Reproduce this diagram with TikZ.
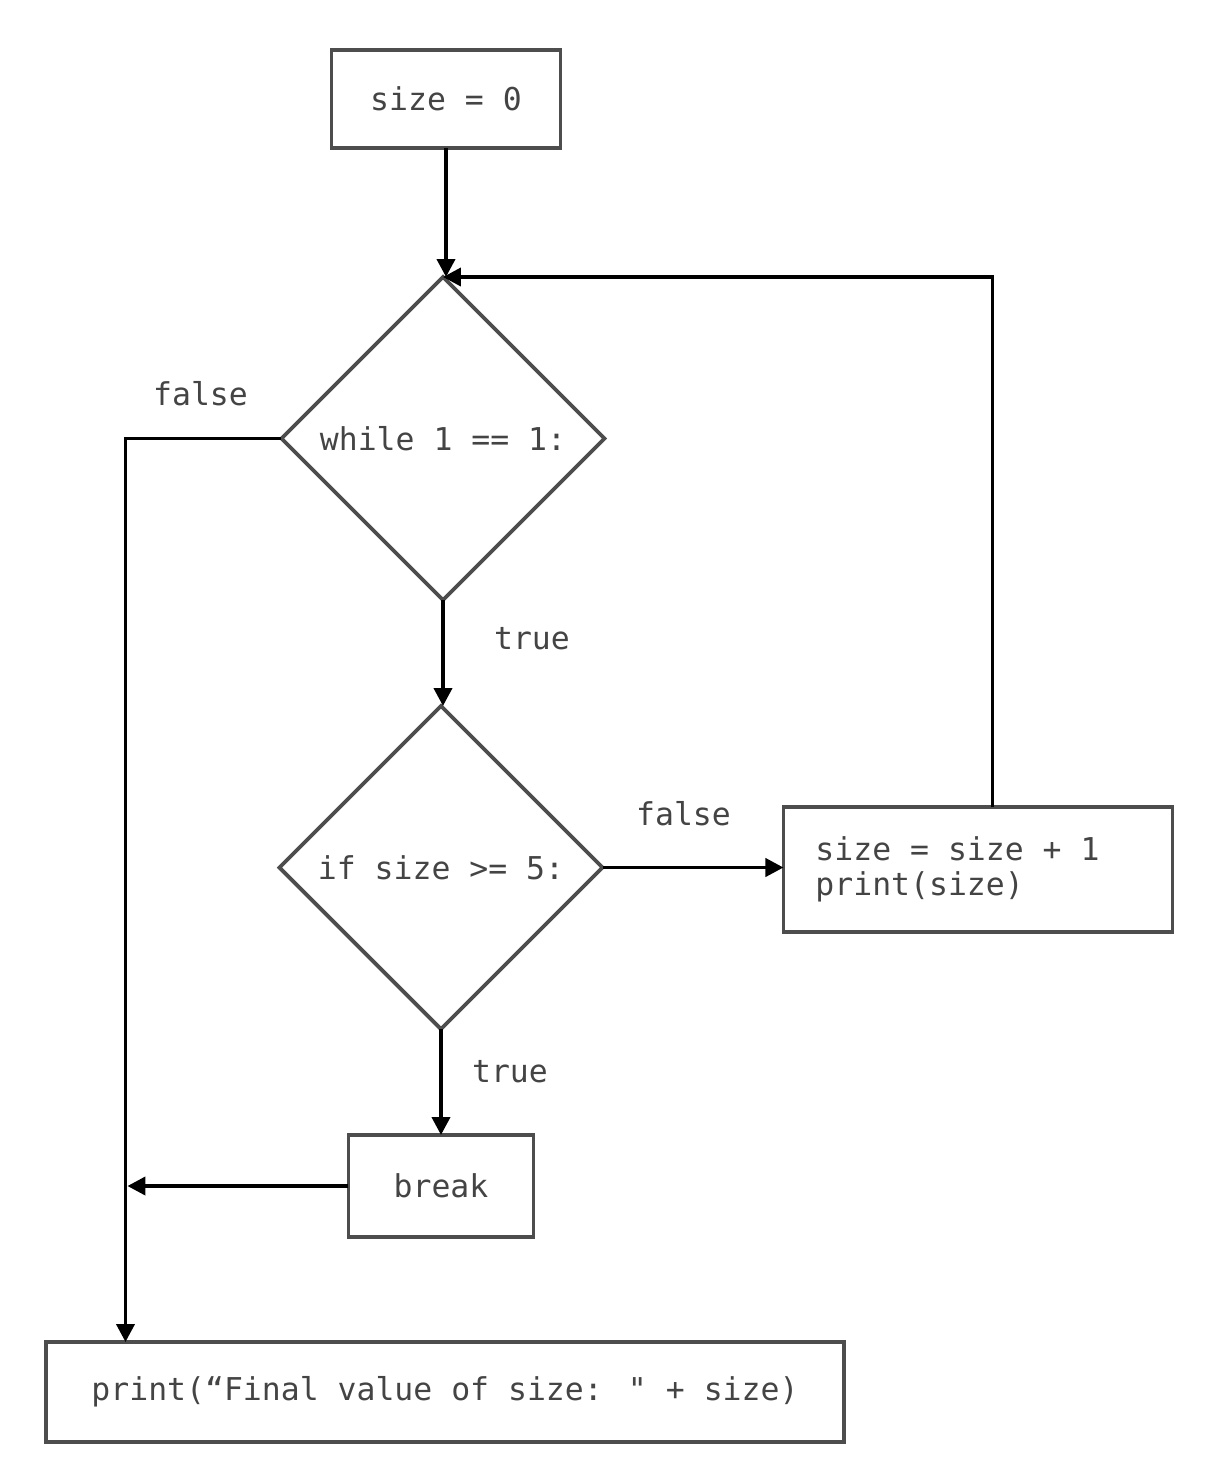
\documentclass[tikz,border=0pt]{standalone}
\usepackage{fontspec}
\usepackage{xcolor}
\usepackage{tikz}
\usetikzlibrary{shapes.geometric, positioning, arrows.meta}

\newfontfamily\codefont[WordSpace={1,0,0}]{DejaVu Sans Mono}
\definecolor{edgegray}{RGB}{77,77,77}
\definecolor{textgray}{RGB}{68,68,68}

\begin{document}
\begin{tikzpicture}[>={Triangle[length=3.6mm,width=3.6mm]},
  every node/.style={font=\codefont\fontsize{17.9}{20}\selectfont,text=textgray},
  stepbox/.style={draw=edgegray,line width=2.2pt,outer sep=0pt,minimum height=1.96cm,align=center},
  decision/.style={diamond,draw=edgegray,line width=2.2pt,outer sep=0pt,minimum size=6.46cm,inner sep=0pt,align=center},
  flow/.style={->,line width=2.2pt,black},
  lbl/.style={inner sep=1pt}]
  \useasboundingbox (-8.92,1.98) rectangle (15.32,-27.42);
  \node[stepbox, minimum width=4.58cm] (init) {size = 0};
  \node[decision, below=2.58cm of init, xshift=-0.06cm] (while) {while 1 == 1:};
  \node[decision, below=2.12cm of while, xshift=-0.04cm] (if) {if size >= 5:};
  \node[stepbox, right=3.62cm of if, yshift=-0.04cm, minimum height=2.5cm, text width=6.5cm, inner xsep=0.64cm, align=flush left] (update) {size = size + 1\\print(size)};
  \node[stepbox, below=2.12cm of if, minimum width=3.7cm, minimum height=2.04cm] (break) {break};
  \node[stepbox, below=2.1cm of break, xshift=0.08cm, minimum width=15.96cm, minimum height=2cm] (final) {print(“Final value of size: " + size)};
  \coordinate (lane) at ([xshift=-3.12cm]while.west);
  % connectors
  \draw[flow] (init) -- (init |- while.north);
  \draw[flow] (while) -- (while |- if.north);
  \draw[flow] (if) -- (if -| update.west);
  \draw[flow] (if) -- (break);
  \draw[flow] ([xshift=0.29cm]update.north) |- (while.north);
  \draw[flow] (while.west) -- (lane) -- (lane |- final.north);
  \draw[flow] (break.west) -- ([xshift=1.1pt]break.west -| lane);
  % labels
  \node[lbl] (falsewhile) at ([xshift=-1.62cm,yshift=0.9cm]while.west) {false};
  \node[lbl] (truewhile) at ([xshift=1.78cm,yshift=-0.78cm]while.south) {true};
  \node[lbl] (falseif) at ([xshift=1.62cm,yshift=1.08cm]if.east) {false};
  \node[lbl] (trueif) at ([xshift=1.38cm,yshift=-0.86cm]if.south) {true};
\end{tikzpicture}
\end{document}
